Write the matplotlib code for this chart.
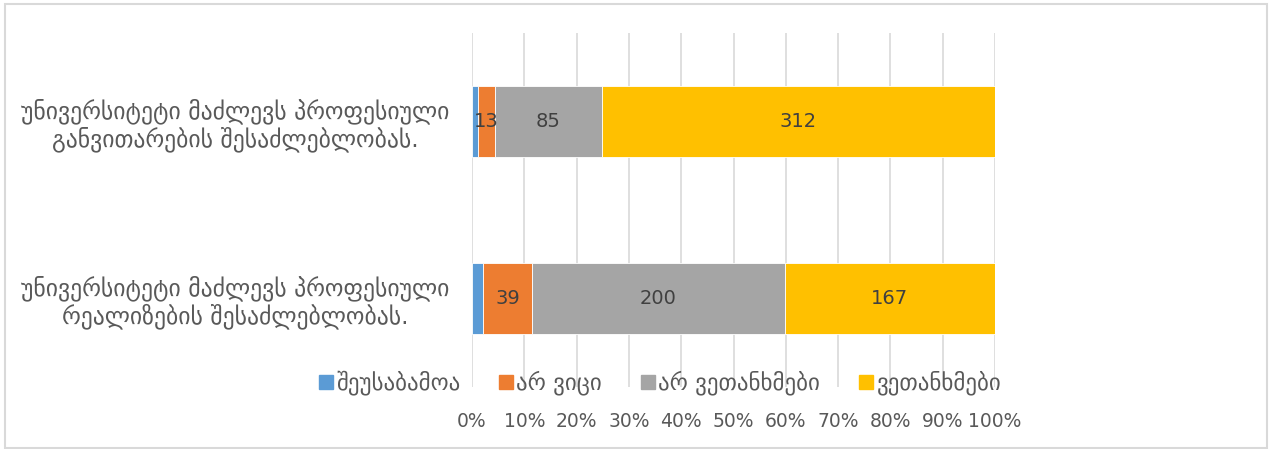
import matplotlib
matplotlib.use("Agg")
import matplotlib.pyplot as plt
from matplotlib.lines import Line2D
from matplotlib.ticker import FixedLocator
import numpy as np

plt.rcParams['font.family'] = ['DejaVu Sans']

categories = [
    "უნივერსიტეტი მაძლევს პროფესიული\nრეალიზების შესაძლებლობას.",
    "უნივერსიტეტი მაძლევს პროფესიული\nგანვითარების შესაძლებლობას.",
]
series_names = ["შეუსაბამოა", "არ ვიცი", "არ ვეთანხმები", "ვეთანხმები"]
values_mismatch = [9, 5]
values_dont_know = [39, 13]
values_disagree = [200, 85]
values_agree = [167, 312]
colors = ["#5B9BD5", "#ED7D31", "#A5A5A5", "#FFC000"]
show_labels = [False, True, True, True]
tick_values = [0, 10, 20, 30, 40, 50, 60, 70, 80, 90, 100]
tick_labels = [f"{t}%" for t in tick_values]

data = np.array([values_mismatch, values_dont_know, values_disagree, values_agree], dtype=float)
totals = data.sum(axis=0)
pct = data / totals * 100

fig = plt.figure(figsize=(12.7, 4.49), dpi=100)
fig.patches.append(plt.Rectangle((0.004, 0.003), 0.994, 0.989, transform=fig.transFigure,
                                 fill=False, edgecolor="#D9D9D9", linewidth=1.5))
ax = fig.add_axes([472/1270, 1-387/449, (995-472)/1270, (387-33)/449])

y = np.arange(len(categories))
left = np.zeros(len(categories))
for i, name in enumerate(series_names):
    bars = ax.barh(y, pct[i], left=left, height=0.4, color=colors[i],
                   edgecolor="white", linewidth=0.6, label=name, zorder=3)
    if show_labels[i]:
        for j, b in enumerate(bars):
            ax.text(left[j] + pct[i][j] / 2, y[j], f"{int(data[i][j])}",
                    ha="center", va="center", fontsize=14, color="#404040", zorder=4)
    left += pct[i]

ax.set_xlim(0, 100)
ax.set_ylim(-0.5, 1.5)
ax.xaxis.set_major_locator(FixedLocator(tick_values))
ax.set_xticklabels(tick_labels)
ax.set_yticks(y)
ax.set_yticklabels(categories, multialignment="center", linespacing=1.1)
ax.tick_params(axis="x", length=0, pad=18, labelsize=13.5, labelcolor="#595959")
ax.tick_params(axis="y", length=0, pad=16, labelsize=17, labelcolor="#595959")
ax.grid(axis="x", color="#D9D9D9", linewidth=1.2, zorder=0)
for s in ax.spines.values():
    s.set_visible(False)

handles = [Line2D([], [], marker="s", linestyle="none", markersize=9.5,
                  markerfacecolor=c, markeredgecolor=c) for c in colors]
fig.legend(handles, series_names, loc="center", bbox_to_anchor=(660/1270, 1-383/449),
           ncol=4, frameon=False, fontsize=16.5, labelcolor="#595959",
           handletextpad=0.15, columnspacing=1.7, handlelength=0.6)

fig.savefig("out.png", dpi=100)
